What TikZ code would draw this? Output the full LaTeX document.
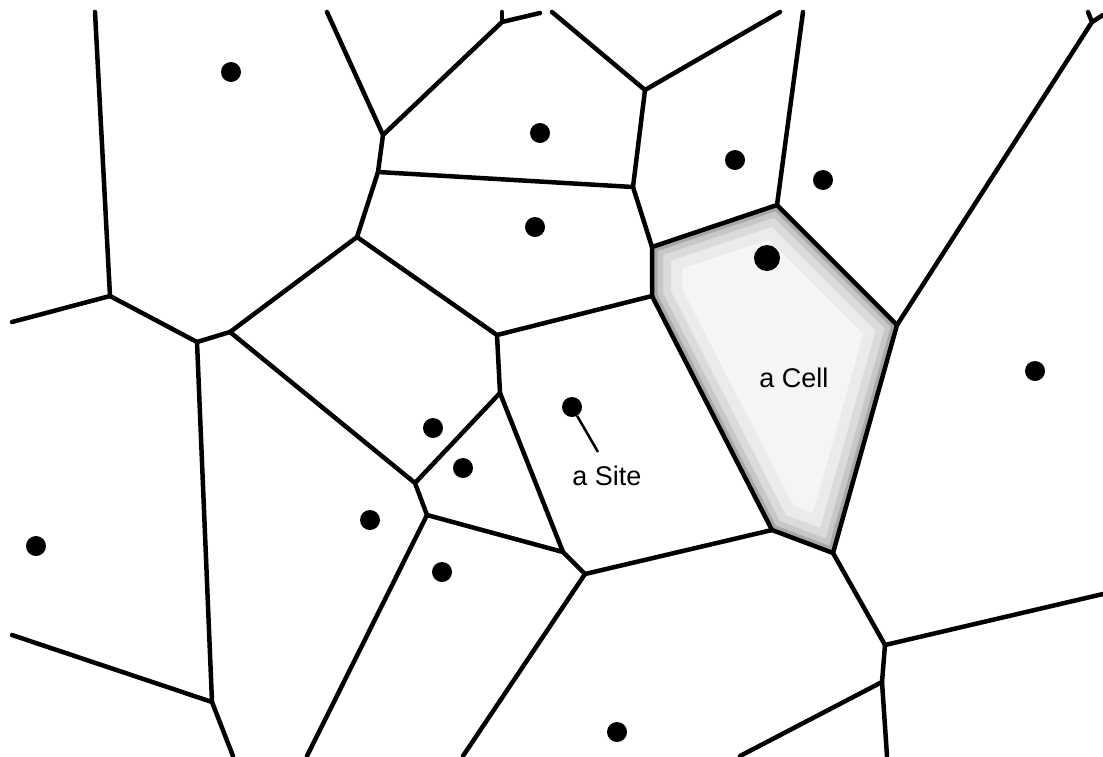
\documentclass[tikz,border=0pt]{standalone}
\usepackage{fontspec}
\setmainfont{Liberation Sans}

\begin{document}
\begin{tikzpicture}[
    x=1pt, y=-1pt,
    edge/.style={line width=4.5pt, line join=round, line cap=round},
    site/.style={circle, fill=black, inner sep=0pt, minimum size=20pt},
    cellsite/.style={site, minimum size=26pt},
    leader/.style={line width=2.5pt},
    lbl/.style={font=\fontsize{27}{32}\selectfont},
    band/.style={line join=round}
  ]
    \useasboundingbox (0,0) rectangle (1103,756);

    % --- Border ends ---
    \coordinate (t1) at (95,12);
    \coordinate (t2) at (327,12);
    \coordinate (t3) at (502,12);
    \coordinate (t4) at (540,13);
    \coordinate (t5) at (552,12);
    \coordinate (t6) at (780,12);
    \coordinate (t7) at (803,12);
    \coordinate (t8) at (1088,12);
    \coordinate (r1) at (1103,15);
    \coordinate (r2) at (1103,594);
    \coordinate (l1) at (12,322);
    \coordinate (l2) at (12,635);
    \coordinate (b1) at (233,756);
    \coordinate (b2) at (307,756);
    \coordinate (b3) at (463,756);
    \coordinate (b4) at (740,756);
    \coordinate (b5) at (887,756);

    % --- Vertices ---
    \coordinate (va) at (110,296);
    \coordinate (vb) at (197,342);
    \coordinate (vc) at (230,332);
    \coordinate (ve) at (383,135);
    \coordinate (vh) at (378,172);
    \coordinate (vi) at (357,237);
    \coordinate (vt) at (502,22);
    \coordinate (vf) at (645,90);
    \coordinate (vg) at (633,187);
    \coordinate (vk) at (652,247);
    \coordinate (vp) at (777,205);
    \coordinate (vs) at (897,325);
    \coordinate (vy) at (1092,22);
    \coordinate (vl) at (652,296);
    \coordinate (vj) at (497,335);
    \coordinate (vm) at (500,393);
    \coordinate (vn) at (415,483);
    \coordinate (vo) at (427,515);
    \coordinate (vq1) at (563,552);
    \coordinate (vq2) at (585,574);
    \coordinate (vx) at (772,530);
    \coordinate (vr) at (833,553);
    \coordinate (vu) at (885,645);
    \coordinate (vv) at (882,682);
    \coordinate (vw) at (212,702);

    % --- Highlighted cell ---
    \begin{scope}
      \clip (vk) -- (vp) -- (vs) -- (vr) -- (vx) -- (vl) -- cycle;
      \fill[black!4] (vk) -- (vp) -- (vs) -- (vr) -- (vx) -- (vl) -- cycle;
      \draw[band, black!8, line width=60pt] (vk) -- (vp) -- (vs) -- (vr) -- (vx) -- (vl) -- cycle;
      \draw[band, black!14, line width=38pt] (vk) -- (vp) -- (vs) -- (vr) -- (vx) -- (vl) -- cycle;
      \draw[band, black!22, line width=22pt] (vk) -- (vp) -- (vs) -- (vr) -- (vx) -- (vl) -- cycle;
      \draw[band, black!34, line width=11pt] (vk) -- (vp) -- (vs) -- (vr) -- (vx) -- (vl) -- cycle;
    \end{scope}

    % --- Edges ---
    \draw[edge] (t1) -- (va) -- (l1);
    \draw[edge] (va) -- (vb) -- (vw) -- (l2);
    \draw[edge] (vw) -- (b1);
    \draw[edge] (vb) -- (vc) -- (vi) -- (vh) -- (ve) -- (t2);
    \draw[edge] (ve) -- (vt) -- (t4);
    \draw[edge] (vt) -- (t3);
    \draw[edge] (t5) -- (vf) -- (t6);
    \draw[edge] (vf) -- (vg) -- (vh);
    \draw[edge] (vg) -- (vk) -- (vp) -- (t7);
    \draw[edge] (vp) -- (vs) -- (vy) -- (t8);
    \draw[edge] (vy) -- (r1);
    \draw[edge] (vk) -- (vl) -- (vx) -- (vr) -- (vs);
    \draw[edge] (vl) -- (vj) -- (vi);
    \draw[edge] (vj) -- (vm) -- (vn) -- (vc);
    \draw[edge] (vn) -- (vo) -- (b2);
    \draw[edge] (vo) -- (vq1) -- (vm);
    \draw[edge] (vq1) -- (vq2) -- (b3);
    \draw[edge] (vq2) -- (vx);
    \draw[edge] (vr) -- (vu) -- (r2);
    \draw[edge] (vu) -- (vv) -- (b5);
    \draw[edge] (vv) -- (b4);

    % --- Sites ---
    \node[site] (s1) at (231,72) {};
    \node[site] (s2) at (540,133) {};
    \node[site] (s3) at (735,160) {};
    \node[site] (s4) at (823,180) {};
    \node[site] (s5) at (535,227) {};
    \node[cellsite] (s6) at (767,258) {};
    \node[site] (s7) at (1035,371) {};
    \node[site] (s8) at (572,407) {};
    \node[site] (s9) at (433,428) {};
    \node[site] (s10) at (463,468) {};
    \node[site] (s11) at (370,520) {};
    \node[site] (s12) at (36,546) {};
    \node[site] (s13) at (442,572) {};
    \node[site] (s14) at (617,732) {};

    % --- Labels ---
    \node[lbl] (sitelbl) at (607,476) {a Site};
    \coordinate (sitetip) at (598,452);
    \draw[leader] (s8) -- (sitetip);
    \node[lbl] (celllbl) at (794,378) {a Cell};

  \end{tikzpicture}
\end{document}
